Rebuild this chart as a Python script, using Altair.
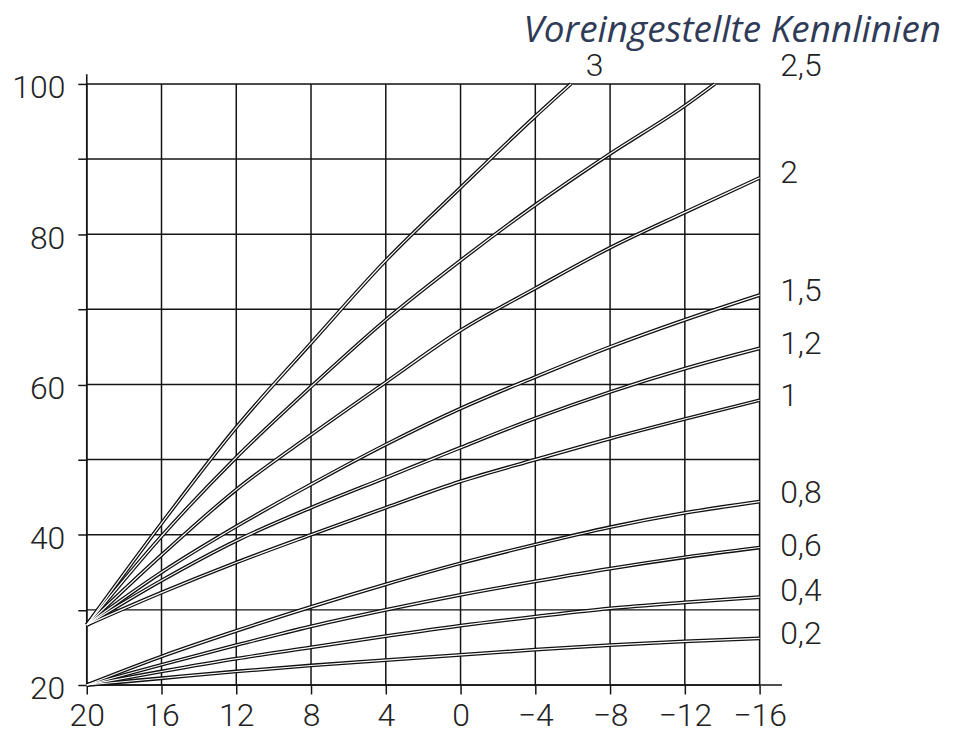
import altair as alt
import pandas as pd

# ---------------- data ----------------
curve_names = ["3", "2,5", "2", "1,5", "1,2", "1", "0,8", "0,6", "0,4", "0,2"]
outdoor = [20, 16, 12, 8, 4, 0, -4, -8, -12, -16]

x_3 = [20, 16, 12, 8, 4, 0, -4, -5.9]
flow_3 = [28, 41.5, 54.3, 65.5, 76.5, 86.2, 95.7, 100]
x_2_5 = [20, 16, 12, 8, 4, 0, -4, -8, -12, -13.6]
flow_2_5 = [28, 39.8, 50.3, 59.7, 68.6, 76.5, 83.9, 90.7, 97.1, 100]
flow_2 = [28, 37.3, 46.0, 53.3, 60.3, 67.2, 72.8, 78.2, 82.9, 87.5]
flow_1_5 = [28, 35.0, 41.1, 46.7, 52.0, 56.8, 61.0, 65.0, 68.6, 71.9]
flow_1_2 = [28, 33.9, 39.2, 43.6, 47.6, 51.6, 55.5, 59.0, 62.1, 64.8]
flow_1 = [28, 32.3, 36.3, 40.0, 43.6, 47.1, 50.0, 52.8, 55.4, 57.9]
flow_0_8 = [20, 23.8, 27.2, 30.4, 33.4, 36.2, 38.7, 41.0, 42.9, 44.4]
flow_0_6 = [20, 22.7, 25.3, 27.8, 30.0, 32.0, 33.8, 35.5, 37.0, 38.3]
flow_0_4 = [20, 21.8, 23.5, 25.0, 26.5, 27.9, 29.1, 30.2, 31.0, 31.7]
flow_0_2 = [20, 20.9, 21.8, 22.6, 23.3, 24.0, 24.7, 25.3, 25.8, 26.2]

# curve label anchor points (data coordinates)
label_x = [-6.7, -17.1, -17.1, -17.1, -17.1, -17.1, -17.1, -17.1, -17.1, -17.1]
label_y = [102.4, 102.4, 88.2, 72.5, 65.4, 58.5, 45.5, 38.5, 32.5, 26.8]

grid_x = outdoor
grid_y = [20, 30, 40, 50, 60, 70, 80, 90, 100]
x_axis_end = -17.2
y_axis_end = 101.3

title_text = "Voreingestellte Kennlinien"

# ---------------- tables ----------------
curve_x = [x_3, x_2_5] + [outdoor] * 8
curve_y = [flow_3, flow_2_5, flow_2, flow_1_5, flow_1_2, flow_1,
           flow_0_8, flow_0_6, flow_0_4, flow_0_2]
rows = []
for name, xs, ys in zip(curve_names, curve_x, curve_y):
    for i, (xv, yv) in enumerate(zip(xs, ys)):
        rows.append({"curve": name, "x": xv, "y": yv, "i": i})
curves = pd.DataFrame(rows)

vgrid = pd.DataFrame({"x": grid_x, "y0": [grid_y[0]] * len(grid_x), "y1": [grid_y[-1]] * len(grid_x)})
hgrid = pd.DataFrame({"y": grid_y, "x0": [grid_x[0]] * len(grid_y), "x1": [grid_x[-1]] * len(grid_y)})
axes_df = pd.DataFrame({
    "x0": [grid_x[0], grid_x[0]], "x1": [x_axis_end, grid_x[0]],
    "y0": [grid_y[0], grid_y[0]], "y1": [grid_y[0], y_axis_end],
})
labels = pd.DataFrame({"text": curve_names, "lx": label_x, "ly": label_y})

# ---------------- scales / axes ----------------
LABEL_FONT = "Roboto"
INK = "#141414"

x_scale = alt.Scale(domain=[-16, 20], reverse=True, nice=False, zero=False)
y_scale = alt.Scale(domain=[20, 100], nice=False, zero=False)

x_axis = alt.Axis(values=grid_x, tickSize=9, tickWidth=1.5, tickColor=INK,
                  domain=False, grid=False, labelFont=LABEL_FONT, labelFontWeight=300,
                  labelFontSize=32, labelColor="#222", labelPadding=7,
                  labelFlush=False, labelOverlap=False, title=None)
y_axis = alt.Axis(values=grid_y, tickSize=9, tickWidth=1.5, tickColor=INK,
                  domain=False, grid=False, labelFont=LABEL_FONT, labelFontWeight=300,
                  labelFontSize=32, labelColor="#222", labelPadding=13, labelOffset=4,
                  labelExpr="datum.value % 20 === 0 ? datum.label : ''",
                  labelFlush=False, labelOverlap=False, title=None)


def X(field):
    return alt.X(field, type="quantitative", scale=x_scale, axis=x_axis)


def Y(field):
    return alt.Y(field, type="quantitative", scale=y_scale, axis=y_axis)


vgrid_layer = alt.Chart(vgrid).mark_rule(color=INK, strokeWidth=1.5).encode(
    x=X("x"), y=Y("y0"), y2="y1")
hgrid_layer = alt.Chart(hgrid).mark_rule(color=INK, strokeWidth=1.5).encode(
    y=Y("y"), x=X("x0"), x2="x1")
axes_layer = alt.Chart(axes_df).mark_rule(color=INK, strokeWidth=1.6).encode(
    x=X("x0"), x2="x1", y=Y("y0"), y2="y1")

curve_outer = alt.Chart(curves).mark_line(color="#111", strokeWidth=3.8,
                                          interpolate="monotone").encode(
    x=X("x"), y=Y("y"), detail="curve:N", order="i:Q")
curve_inner = alt.Chart(curves).mark_line(color="#ffffff", strokeWidth=1.2,
                                          interpolate="monotone").encode(
    x=X("x"), y=Y("y"), detail="curve:N", order="i:Q")

label_layer = alt.Chart(labels).mark_text(
    align="left", baseline="middle", font=LABEL_FONT, fontWeight=300,
    fontSize=32, color="#222").encode(x=X("lx"), y=Y("ly"), text="text:N")

chart = alt.layer(
    vgrid_layer, hgrid_layer, axes_layer, curve_outer, curve_inner, label_layer
).properties(
    width=675, height=603,
    padding={"left": 79, "top": 75, "right": 186, "bottom": 56},
    autosize=alt.AutoSizeParams(type="none"),
    title=alt.TitleParams(title_text, anchor="end", frame="group", font="Open Sans",
                          fontStyle="italic", fontWeight="normal", fontSize=37,
                          color="#2f3b57", dx=182, dy=2, offset=2),
).configure_view(stroke=None).configure(background="white")

chart.save("out.html", embed_options={"renderer": "svg", "actions": False})
